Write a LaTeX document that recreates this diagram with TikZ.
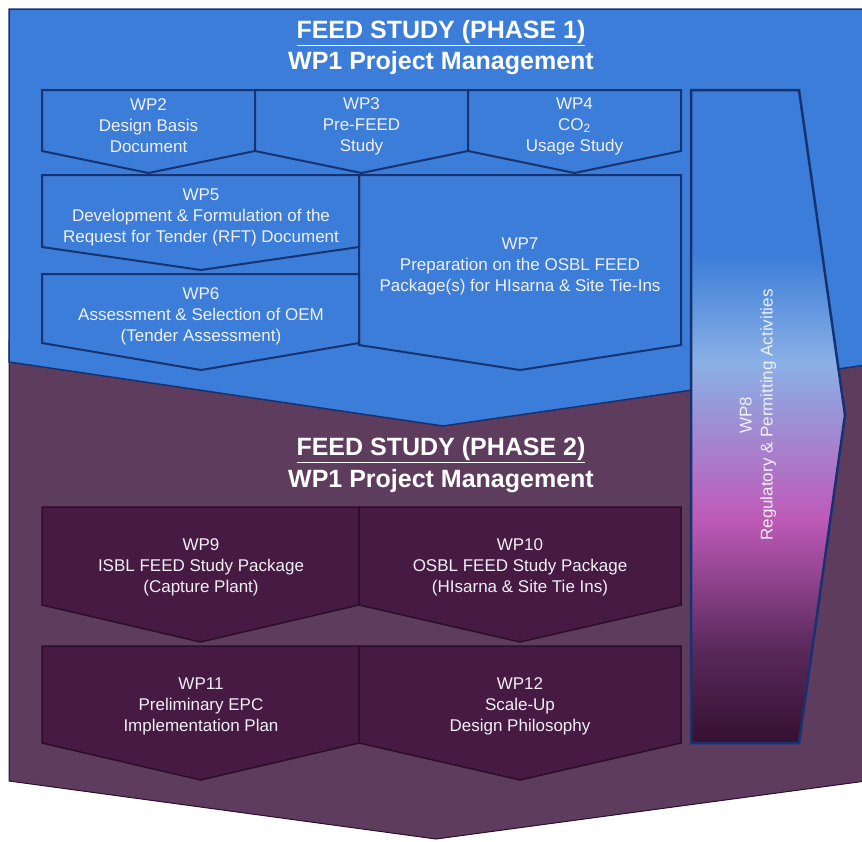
\documentclass[tikz,border=0pt]{standalone}
\usepackage{fontspec}
\setmainfont{Liberation Sans}
\definecolor{phaseblue}{RGB}{59,125,216}
\definecolor{phasepurple}{RGB}{94,60,94}
\definecolor{boxpurple}{RGB}{70,26,66}
\definecolor{navyline}{RGB}{22,50,112}
\definecolor{plumline}{RGB}{45,14,42}
\definecolor{wplight}{RGB}{138,176,230}
\definecolor{wppink}{RGB}{190,90,184}
\definecolor{wpplum}{RGB}{92,42,94}
\definecolor{wpdark}{RGB}{52,16,48}
\definecolor{softwhite}{RGB}{240,240,246}
\pgfdeclareverticalshading{wpeight}{100bp}{color(0bp)=(wpdark); color(25bp)=(wpdark);
  color(32.5bp)=(wpplum); color(42.2bp)=(wppink); color(54.1bp)=(wplight);
  color(62.5bp)=(phaseblue); color(75bp)=(phaseblue); color(100bp)=(phaseblue)}
\tikzset{
  wptext/.style={text=softwhite, align=center, font=\fontsize{17}{21}\selectfont},
  titletext/.style={text=white, align=center, font=\bfseries\fontsize{25}{29}\selectfont},
  bluebox/.style={fill=phaseblue, draw=navyline, line width=2pt, line join=miter},
  plumbox/.style={fill=boxpurple, draw=plumline, line width=1.5pt, line join=miter}
}
\begin{document}
\begin{tikzpicture}[x=1pt, y=-1pt]
    \useasboundingbox (0,0) rectangle (862,841);
    % phase 2 background, then phase 1 on top
    \fill[phasepurple, draw=plumline, line width=1pt]
        (9,340) -- (866,340) -- (866,781) -- (436,839) -- (9,781) -- cycle;
    \fill[phaseblue, draw=navyline, line width=1.5pt]
        (9,9) -- (866,9) -- (866,365) -- (443,426) -- (9,362) -- cycle;
    \node[titletext] (t1) at (441,33) {\underline{FEED STUDY (PHASE 1)}};
    \node[titletext] (t1b) at (441,63) {WP1 Project Management};
    % first row
    \foreach \l/\r in {42/255, 255/468, 468/681}
        \draw[bluebox] (\l,90) -- (\r,90) -- (\r,151) -- ({(\l+\r)/2},173) -- (\l,151) -- cycle;
    \node[wptext] (wp2) at (148.5,126) {WP2\\Design Basis\\Document};
    \node[wptext] (wp3) at (361.5,126) {WP3\\Pre-FEED\\Study};
    \node[wptext] (wp4) at (574.5,126) {WP4\\CO\textsubscript{2}\\Usage Study};
    % second block
    \draw[bluebox] (359,175) -- (681,175) -- (681,345) -- (520,370) -- (359,345) -- cycle;
    \draw[bluebox] (42,274) -- (359,274) -- (359,343) -- (201,370) -- (42,343) -- cycle;
    \draw[bluebox] (42,175) -- (359,175) -- (359,247) -- (201,270) -- (42,247) -- cycle;
    \node[wptext] (wp5) at (201,217) {WP5\\Development \& Formulation of the\\Request for Tender (RFT) Document};
    \node[wptext] (wp6) at (201,316) {WP6\\Assessment \& Selection of OEM\\(Tender Assessment)};
    \node[wptext] (wp7) at (520,266) {WP7\\Preparation on the OSBL FEED\\Package(s) for HIsarna \& Site Tie-Ins};
    % phase 2
    \node[titletext] (t2) at (441,450) {\underline{FEED STUDY (PHASE 2)}};
    \node[titletext] (t2b) at (441,481) {WP1 Project Management};
    \foreach \l/\r in {42/359, 359/681} {
        \draw[plumbox] (\l,507) -- (\r,507) -- (\r,605) -- ({(\l+\r)/2},642) -- (\l,605) -- cycle;
        \draw[plumbox] (\l,646) -- (\r,646) -- (\r,743) -- ({(\l+\r)/2},780) -- (\l,743) -- cycle;
    }
    \node[wptext] (wp9) at (201,567) {WP9\\ISBL FEED Study Package\\(Capture Plant)};
    \node[wptext] (wp10) at (520,567) {WP10\\OSBL FEED Study Package\\(HIsarna \& Site Tie Ins)};
    \node[wptext] (wp11) at (201,706) {WP11\\Preliminary EPC\\Implementation Plan};
    \node[wptext] (wp12) at (520,706) {WP12\\Scale-Up\\Design Philosophy};
    % WP8 arrow
    \draw[shading=wpeight, draw=navyline, line width=2.5pt, line join=miter]
        (691,90) -- (799,90) -- (845,415) -- (799,743) -- (691,743) -- cycle;
    \node[wptext, rotate=90] (wp8) at (758,415) {WP8\\Regulatory \& Permitting Activities};
\end{tikzpicture}
\end{document}
